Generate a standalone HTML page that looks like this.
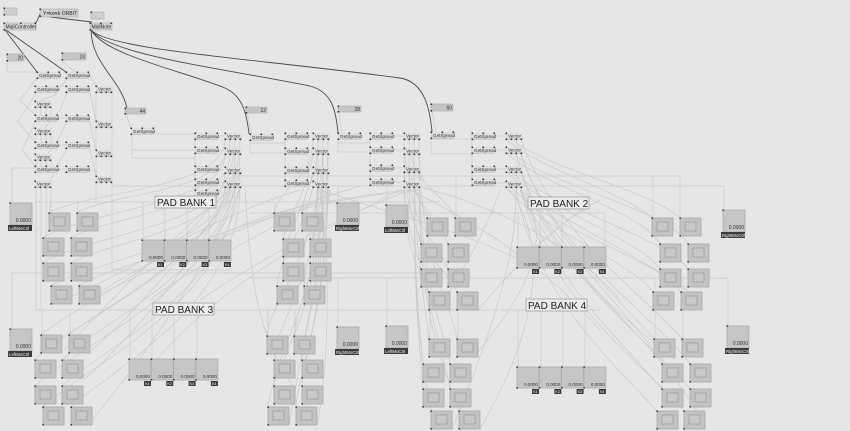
<!DOCTYPE html>
<html><head><meta charset="utf-8"><style>
html,body{margin:0;padding:0;background:#e6e6e6;}
svg{display:block;}
text{font-family:"Liberation Sans",sans-serif;}
</style></head><body>
<svg width="850" height="431" viewBox="0 0 850 431" xmlns="http://www.w3.org/2000/svg">
<defs>
<g id="pad"><rect x="0" y="0" width="21" height="18" fill="#c3c3c3" stroke="#a8a8a8" stroke-width="0.8"/><rect x="5" y="4" width="11" height="9" fill="#c9c9c9" stroke="#999" stroke-width="0.7"/><rect x="-0.6" y="-0.6" width="1.6" height="1.6" fill="#444"/><rect x="-0.6" y="17" width="1.6" height="1.6" fill="#444"/></g>
<g id="gs"><rect x="0" y="0" width="23" height="6" fill="#dedede"/><rect x="0" y="5.6" width="23" height="1" fill="#bcbcbc"/><rect x="-0.5" y="-0.5" width="1.6" height="1.6" fill="#333"/><rect x="10.5" y="-0.5" width="1.6" height="1.6" fill="#333"/><rect x="21.5" y="-0.5" width="1.6" height="1.6" fill="#333"/><rect x="-0.5" y="5.5" width="1.6" height="1.6" fill="#333"/></g>
<g id="vec"><rect x="0" y="0" width="17" height="6" fill="#dedede"/><rect x="0" y="5.6" width="17" height="1" fill="#bcbcbc"/><rect x="-0.5" y="-0.5" width="1.6" height="1.6" fill="#333"/><rect x="-0.5" y="5.5" width="1.6" height="1.6" fill="#333"/><rect x="4.5" y="5.5" width="1.6" height="1.6" fill="#333"/><rect x="9.5" y="5.5" width="1.6" height="1.6" fill="#333"/><rect x="14.5" y="5.5" width="1.6" height="1.6" fill="#333"/></g>
<g id="mo"><rect x="0" y="0" width="22" height="22" fill="#c6c6c6" stroke="#ababab" stroke-width="0.8"/><rect x="-0.6" y="-0.6" width="1.6" height="1.6" fill="#444"/><rect x="-2" y="22" width="24" height="6" fill="#3a3a3a"/></g>
<g id="ks"><rect x="0" y="0" width="22" height="21" fill="#c6c6c6" stroke="#ababab" stroke-width="0.8"/><rect x="-0.6" y="-0.6" width="1.6" height="1.6" fill="#444"/><rect x="-0.6" y="20" width="1.6" height="1.6" fill="#444"/><rect x="15" y="22" width="7" height="5" fill="#3a3a3a"/></g>
</defs>

<g fill="none" stroke="#c9c9c9" stroke-width="0.7">
<path d="M7,61 L7,72 L37,72"/>
<path d="M62,61 L75,72"/>
<path d="M36,79 L20,100 L35,115"/>
<path d="M36,93 L18,122 L35,142"/>
<path d="M36,121 L22,150 L35,166"/>
<path d="M67,79 L55,95 L40,101"/>
<path d="M67,93 L60,110 L45,128"/>
<path d="M67,121 L58,140 L48,154"/>
<path d="M67,148 L58,165 L50,181"/>
<path d="M59,118 L66,118"/><path d="M59,145 L66,145"/><path d="M59,169 L66,169"/>
<path d="M89,75 L96,86"/><path d="M89,89 L96,121"/><path d="M89,118 L96,150"/><path d="M89,145 L96,176"/>
<path d="M96,92 L96,121"/><path d="M112,92 L112,121"/><path d="M96,127 L96,150"/><path d="M112,127 L112,150"/><path d="M96,156 L96,176"/><path d="M112,156 L112,176"/>
<path d="M36,107 L36,115"/><path d="M41,107 L41,115"/><path d="M46,107 L46,115"/><path d="M51,107 L51,115"/>
<path d="M36,134 L36,142"/><path d="M41,134 L41,142"/><path d="M46,134 L46,142"/><path d="M51,134 L51,142"/>
<path d="M36,160 L36,166"/><path d="M41,160 L41,166"/><path d="M46,160 L46,166"/><path d="M51,160 L51,166"/>
<path d="M36,187 L36,310"/><path d="M41,187 L41,310"/><path d="M46,187 L46,240"/><path d="M51,187 L51,213"/>
<path d="M35,168 L12,168 L12,203"/>
<path d="M112,182 L112,270 L232,270"/>
<path d="M96,182 L96,202"/>
<path d="M132,134 L132,158"/><path d="M132,134 L195,134"/><path d="M132,150 L195,150"/><path d="M132,158 L195,158"/>
<path d="M195,133 L195,196"/><path d="M218,136 L225,136"/><path d="M218,151 L225,151"/><path d="M218,170 L225,170"/><path d="M218,183 L225,183"/>
<path d="M250,140 L250,153"/><path d="M250,143 L285,143"/><path d="M250,153 L285,153"/>
<path d="M285,133 L285,186"/><path d="M308,136 L313,136"/><path d="M308,151 L313,151"/><path d="M308,170 L313,170"/><path d="M308,183 L313,183"/>
<path d="M338,139 L338,152"/><path d="M338,143 L370,143"/><path d="M338,152 L370,152"/>
<path d="M370,133 L370,185"/><path d="M393,136 L404,136"/><path d="M393,150 L404,150"/><path d="M393,168 L404,168"/><path d="M393,182 L404,182"/>
<path d="M431,138 L431,154"/><path d="M431,139 L472,139"/><path d="M431,154 L472,154"/>
<path d="M472,133 L472,185"/><path d="M495,136 L506,136"/><path d="M495,150 L506,150"/><path d="M495,169 L506,169"/><path d="M495,183 L506,183"/>
<path d="M126,114 L131,128"/><path d="M247,113 L252,134"/><path d="M339,112 L342,133"/><path d="M432,111 L436,132"/>
<path d="M232,176 L680,176"/>
<path d="M112,186 L724,186"/>
<path d="M35,202 L440,202"/>
<path d="M250,213 L605,213"/>
<path d="M12,273 L430,273"/>
<path d="M250,278 L728,278"/>
<path d="M35,310 L600,310"/>
<path d="M12,273 L12,329"/>
<path d="M338,186 L338,203"/><path d="M387,186 L387,205"/><path d="M724,186 L724,210"/>
<path d="M338,278 L338,327"/><path d="M387,278 L387,326"/><path d="M728,278 L728,326"/>
<path d="M456,176 L456,218"/><path d="M653,176 L653,218"/><path d="M680,176 L680,218"/>
<path d="M143,202 L143,240"/><path d="M165,202 L165,240"/><path d="M187,202 L187,240"/><path d="M209,202 L209,240"/>
<path d="M518,213 L518,247"/><path d="M540,213 L540,247"/><path d="M562,213 L562,247"/><path d="M605,213 L605,247"/>
<path d="M130,310 L130,359"/><path d="M152,310 L152,359"/><path d="M174,310 L174,359"/><path d="M197,310 L197,359"/>
<path d="M518,311 L518,367"/><path d="M541,311 L541,367"/><path d="M563,311 L563,367"/><path d="M585,311 L585,367"/>
<path d="M275,202 L275,213"/><path d="M303,202 L303,213"/><path d="M50,202 L50,213"/><path d="M78,202 L78,213"/>
<path d="M42,310 L42,335"/><path d="M70,310 L70,335"/><path d="M268,310 L268,336"/><path d="M295,310 L295,336"/>
<path d="M430,310 L430,339"/><path d="M458,310 L458,339"/><path d="M655,278 L655,339"/><path d="M683,278 L683,339"/>
</g>

<g fill="none" stroke="#cacaca" stroke-width="0.7">
<path d="M225,139 C225,190 90,190 49,213"/>
<path d="M230,139 C230,195 115,190 77,213"/>
<path d="M225,154 C225,205 85,210 43,238"/>
<path d="M230,154 C230,210 110,215 71,238"/>
<path d="M225,173 C225,225 85,235 43,263"/>
<path d="M230,173 C230,230 110,240 71,263"/>
<path d="M225,187 C225,245 95,260 51,286"/>
<path d="M230,187 C230,250 120,260 79,286"/>
<path d="M235,139 C235,240 80,300 41,335"/>
<path d="M240,139 C240,245 110,300 69,335"/>
<path d="M235,154 C235,260 70,320 35,360"/>
<path d="M240,154 C240,265 100,320 62,360"/>
<path d="M235,173 C235,280 70,350 35,386"/>
<path d="M240,173 C240,285 100,350 62,386"/>
<path d="M235,187 C235,300 80,370 43,407"/>
<path d="M240,187 C240,305 110,370 71,407"/>
<path d="M313,139 C313,180 280,185 274,213"/>
<path d="M318,139 C318,180 305,185 302,213"/>
<path d="M313,154 C305,200 290,210 283,239"/>
<path d="M318,154 C318,200 315,210 310,239"/>
<path d="M313,173 C300,220 285,235 283,263"/>
<path d="M318,173 C318,220 312,235 310,263"/>
<path d="M313,187 C300,240 280,255 277,286"/>
<path d="M318,187 C318,240 306,255 304,286"/>
<path d="M323,139 C323,250 270,300 267,336"/>
<path d="M328,139 C328,250 297,300 294,336"/>
<path d="M323,154 C323,270 276,320 274,360"/>
<path d="M328,154 C328,270 305,320 302,360"/>
<path d="M323,173 C323,290 276,350 274,386"/>
<path d="M328,173 C328,290 305,350 302,386"/>
<path d="M323,187 C323,310 270,370 268,407"/>
<path d="M328,187 C328,310 298,370 296,407"/>
<path d="M404,139 C404,185 420,195 427,218"/>
<path d="M409,139 C409,185 448,195 455,218"/>
<path d="M404,154 C404,205 415,220 421,244"/>
<path d="M409,154 C409,205 440,220 448,244"/>
<path d="M404,172 C404,225 415,245 421,269"/>
<path d="M409,172 C409,225 440,245 448,269"/>
<path d="M404,187 C404,250 420,270 429,292"/>
<path d="M409,187 C409,250 450,270 457,292"/>
<path d="M414,139 C414,260 425,300 429,339"/>
<path d="M419,139 C419,260 450,300 457,339"/>
<path d="M414,154 C414,290 420,330 423,364"/>
<path d="M419,154 C419,290 445,330 450,364"/>
<path d="M414,172 C414,310 420,350 423,389"/>
<path d="M419,172 C419,310 445,350 450,389"/>
<path d="M414,187 C414,330 425,380 431,411"/>
<path d="M419,187 C419,330 450,380 459,411"/>
<path d="M506,139 C540,170 620,190 652,218"/>
<path d="M511,139 C550,170 650,190 680,218"/>
<path d="M506,153 C550,190 640,210 660,244"/>
<path d="M511,153 C560,190 670,210 688,244"/>
<path d="M506,172 C550,210 640,240 660,269"/>
<path d="M511,172 C560,210 670,240 688,269"/>
<path d="M506,187 C540,230 630,260 653,292"/>
<path d="M511,187 C550,230 660,260 681,292"/>
<path d="M516,139 C540,230 620,300 654,339"/>
<path d="M521,139 C550,230 650,300 682,339"/>
<path d="M516,153 C540,250 630,320 662,364"/>
<path d="M521,153 C550,250 660,320 690,364"/>
<path d="M516,172 C540,270 630,350 662,389"/>
<path d="M521,172 C550,270 660,350 690,389"/>
<path d="M516,187 C530,290 620,370 657,411"/>
<path d="M521,187 C540,290 650,370 684,411"/>
<path d="M420,187 C470,200 560,230 620,300"/>
<path d="M410,190 C470,220 540,260 600,330"/>
<path d="M404,190 C330,200 250,210 200,250"/>
<path d="M320,190 C380,210 460,230 520,260"/>
<path d="M52,304 C120,280 200,220 300,190"/>
<path d="M80,304 C150,270 250,220 360,186"/>
<path d="M100,292 C180,240 300,200 420,190"/>
<path d="M92,350 C150,300 200,230 240,190"/>
<path d="M64,350 C120,290 180,230 230,190"/>
<path d="M84,380 C150,320 200,250 232,190"/>
<path d="M92,420 C150,350 210,260 240,190"/>
<path d="M289,425 C300,360 320,260 330,190"/>
<path d="M317,425 C330,360 330,260 320,190"/>
<path d="M296,390 C250,330 250,250 245,190"/>
<path d="M474,357 C520,300 560,240 520,190"/>
<path d="M452,429 C480,360 520,260 515,190"/>
<path d="M480,429 C520,360 560,260 510,190"/>
<path d="M444,300 C470,260 490,220 500,190"/>
<path d="M478,310 C520,260 560,220 600,200"/>
<path d="M700,300 C650,260 560,220 520,190"/>
<path d="M702,420 C650,330 560,250 525,190"/>
<path d="M675,360 C600,300 540,240 520,190"/>
<path d="M150,300 C200,260 280,230 330,190"/>
<path d="M200,300 C260,260 330,220 410,190"/>
<path d="M140,380 C200,300 300,240 400,190"/>
</g>

<g fill="none" stroke="#4a4a4a" stroke-width="0.9">
<path d="M5,30 L37,72"/>
<path d="M6,30 L66,72"/>
<path d="M50,17 L92,22"/>
<path d="M40,14 L36,23"/>
<path d="M91,30 C92,65 120,78 127,108"/>
<path d="M91,30 C105,55 180,70 225,88 C243,96 247,115 249,134"/>
<path d="M91,30 C110,55 220,68 310,86 C332,92 336,110 338,133"/>
<path d="M91,30 C110,50 250,58 400,78 C425,82 430,110 432,132"/>
</g>

<rect x="4" y="8" width="13" height="7" fill="#cfcfcf" stroke="#aaa" stroke-width="0.6"/>
<rect x="3.5" y="7.5" width="1.6" height="1.6" fill="#333"/><rect x="3.5" y="14" width="1.6" height="1.6" fill="#333"/>
<rect x="4" y="23" width="32" height="7" fill="#d6d6d6" stroke="#aaa" stroke-width="0.6"/>
<rect x="3.5" y="22.5" width="1.6" height="1.6" fill="#333"/><rect x="3.5" y="29" width="1.6" height="1.6" fill="#333"/><rect x="34.5" y="22.5" width="1.6" height="1.6" fill="#333"/><rect x="20" y="22.5" width="1.6" height="1.6" fill="#333"/>
<text x="5.5" y="28.6" font-size="5" fill="#222">MidiController</text>
<rect x="40" y="9" width="38" height="8" fill="#d0d0d0" stroke="#aaa" stroke-width="0.6"/>
<rect x="39.5" y="8.5" width="1.6" height="1.6" fill="#333"/><rect x="39.5" y="15.5" width="1.6" height="1.6" fill="#333"/>
<text x="43" y="15" font-size="5" fill="#222">Y=korrk ORBIT</text>
<rect x="91" y="12" width="13" height="7" fill="#cfcfcf" stroke="#aaa" stroke-width="0.6"/>
<rect x="90.5" y="11.5" width="1.6" height="1.6" fill="#333"/>
<rect x="90" y="23" width="22" height="7" fill="#d6d6d6" stroke="#aaa" stroke-width="0.6"/>
<rect x="89.5" y="22.5" width="1.6" height="1.6" fill="#333"/><rect x="89.5" y="29" width="1.6" height="1.6" fill="#333"/><rect x="110.5" y="22.5" width="1.6" height="1.6" fill="#333"/><rect x="100" y="22.5" width="1.6" height="1.6" fill="#333"/>
<text x="91.5" y="28.6" font-size="5" fill="#222">MidiNote</text>

<g fill="#c6c6c6" stroke="#aaa" stroke-width="0.6">
<rect x="7" y="54" width="17" height="7"/>
<rect x="62" y="53" width="24" height="7"/>
<rect x="125" y="108" width="21" height="6"/>
<rect x="246" y="107" width="21" height="6"/>
<rect x="338" y="106" width="23" height="6"/>
<rect x="431" y="104" width="22" height="7"/>
</g>
<g fill="#333">
<rect x="6.5" y="53.5" width="1.6" height="1.6"/><rect x="6.5" y="60" width="1.6" height="1.6"/>
<rect x="61.5" y="52.5" width="1.6" height="1.6"/><rect x="61.5" y="59" width="1.6" height="1.6"/>
<rect x="124.5" y="107.5" width="1.6" height="1.6"/><rect x="124.5" y="113" width="1.6" height="1.6"/>
<rect x="245.5" y="106.5" width="1.6" height="1.6"/><rect x="245.5" y="112" width="1.6" height="1.6"/>
<rect x="337.5" y="105.5" width="1.6" height="1.6"/><rect x="337.5" y="111" width="1.6" height="1.6"/>
<rect x="430.5" y="103.5" width="1.6" height="1.6"/><rect x="430.5" y="110" width="1.6" height="1.6"/>
</g>
<g font-size="5" fill="#333" text-anchor="end">
<text x="23" y="59.6">20</text>
<text x="85" y="58.6">24</text>
<text x="145" y="113">44</text>
<text x="266" y="112">12</text>
<text x="360" y="111">28</text>
<text x="452" y="109.6">60</text>
</g>

<g>
<use href="#gs" x="37" y="72"/><use href="#gs" x="66" y="72"/>
<use href="#gs" x="35" y="86"/><use href="#gs" x="66" y="86"/>
<use href="#gs" x="35" y="115"/><use href="#gs" x="66" y="115"/>
<use href="#gs" x="35" y="142"/><use href="#gs" x="66" y="142"/>
<use href="#gs" x="35" y="166"/><use href="#gs" x="66" y="166"/>
<use href="#gs" x="131" y="128"/>
<use href="#gs" x="195" y="133"/><use href="#gs" x="195" y="147"/><use href="#gs" x="195" y="166"/><use href="#gs" x="195" y="179"/><use href="#gs" x="195" y="190"/>
<use href="#gs" x="250" y="134"/>
<use href="#gs" x="285" y="133"/><use href="#gs" x="285" y="148"/><use href="#gs" x="285" y="167"/><use href="#gs" x="285" y="180"/>
<use href="#gs" x="338" y="133"/>
<use href="#gs" x="370" y="133"/><use href="#gs" x="370" y="147"/><use href="#gs" x="370" y="165"/><use href="#gs" x="370" y="179"/>
<use href="#gs" x="431" y="132"/>
<use href="#gs" x="472" y="133"/><use href="#gs" x="472" y="147"/><use href="#gs" x="472" y="166"/><use href="#gs" x="472" y="179"/>
</g>
<g font-size="4.6" fill="#333">
<text x="39" y="76.8">GetSpread</text><text x="68" y="76.8">GetSpread</text>
<text x="37" y="90.8">GetSpread</text><text x="68" y="90.8">GetSpread</text>
<text x="37" y="119.8">GetSpread</text><text x="68" y="119.8">GetSpread</text>
<text x="37" y="146.8">GetSpread</text><text x="68" y="146.8">GetSpread</text>
<text x="37" y="170.8">GetSpread</text><text x="68" y="170.8">GetSpread</text>
<text x="133" y="132.8">GetSpread</text>
<text x="197" y="137.8">GetSpread</text><text x="197" y="151.8">GetSpread</text><text x="197" y="170.8">GetSpread</text><text x="197" y="183.8">GetSpread</text><text x="197" y="194.8">GetSpread</text>
<text x="252" y="138.8">GetSpread</text>
<text x="287" y="137.8">GetSpread</text><text x="287" y="152.8">GetSpread</text><text x="287" y="171.8">GetSpread</text><text x="287" y="184.8">GetSpread</text>
<text x="340" y="137.8">GetSpread</text>
<text x="372" y="137.8">GetSpread</text><text x="372" y="151.8">GetSpread</text><text x="372" y="169.8">GetSpread</text><text x="372" y="183.8">GetSpread</text>
<text x="433" y="136.8">GetSpread</text>
<text x="474" y="137.8">GetSpread</text><text x="474" y="151.8">GetSpread</text><text x="474" y="170.8">GetSpread</text><text x="474" y="183.8">GetSpread</text>
</g>

<g>
<use href="#vec" x="35" y="101"/><use href="#vec" x="35" y="128"/><use href="#vec" x="35" y="154"/><use href="#vec" x="35" y="181"/>
<use href="#vec" x="96" y="86"/><use href="#vec" x="96" y="121"/><use href="#vec" x="96" y="150"/><use href="#vec" x="96" y="176"/>
<use href="#vec" x="225" y="133"/><use href="#vec" x="225" y="148"/><use href="#vec" x="225" y="167"/><use href="#vec" x="225" y="181"/>
<use href="#vec" x="313" y="133"/><use href="#vec" x="313" y="148"/><use href="#vec" x="313" y="167"/><use href="#vec" x="313" y="181"/>
<use href="#vec" x="404" y="133"/><use href="#vec" x="404" y="148"/><use href="#vec" x="404" y="166"/><use href="#vec" x="404" y="181"/>
<use href="#vec" x="506" y="133"/><use href="#vec" x="506" y="147"/><use href="#vec" x="506" y="166"/><use href="#vec" x="506" y="181"/>
</g>
<g font-size="4.6" fill="#333">
<text x="37" y="105.6">Vector</text><text x="37" y="132.6">Vector</text><text x="37" y="158.6">Vector</text><text x="37" y="185.6">Vector</text>
<text x="98" y="90.6">Vector</text><text x="98" y="125.6">Vector</text><text x="98" y="154.6">Vector</text><text x="98" y="180.6">Vector</text>
<text x="227" y="137.6">Vector</text><text x="227" y="152.6">Vector</text><text x="227" y="171.6">Vector</text><text x="227" y="185.6">Vector</text>
<text x="315" y="137.6">Vector</text><text x="315" y="152.6">Vector</text><text x="315" y="171.6">Vector</text><text x="315" y="185.6">Vector</text>
<text x="406" y="137.6">Vector</text><text x="406" y="152.6">Vector</text><text x="406" y="170.6">Vector</text><text x="406" y="185.6">Vector</text>
<text x="508" y="137.6">Vector</text><text x="508" y="151.6">Vector</text><text x="508" y="170.6">Vector</text><text x="508" y="185.6">Vector</text>
</g>

<g fill="#ececec" stroke="#a0a0a0" stroke-width="0.8">
<rect x="155" y="196" width="61" height="12"/>
<rect x="528" y="197" width="61" height="12"/>
<rect x="153" y="303" width="61" height="12"/>
<rect x="526" y="299" width="61" height="12"/>
</g>
<g font-size="10" fill="#222">
<text x="157" y="206">PAD BANK 1</text>
<text x="530" y="207">PAD BANK 2</text>
<text x="155" y="313">PAD BANK 3</text>
<text x="528" y="309">PAD BANK 4</text>
</g>

<g>
<use href="#pad" x="49" y="213"/><use href="#pad" x="77" y="213"/><use href="#pad" x="43" y="238"/><use href="#pad" x="71" y="238"/><use href="#pad" x="43" y="263"/><use href="#pad" x="71" y="263"/><use href="#pad" x="51" y="286"/><use href="#pad" x="79" y="286"/>
<use href="#pad" x="274" y="213"/><use href="#pad" x="302" y="213"/><use href="#pad" x="283" y="239"/><use href="#pad" x="310" y="239"/><use href="#pad" x="283" y="263"/><use href="#pad" x="310" y="263"/><use href="#pad" x="277" y="286"/><use href="#pad" x="304" y="286"/>
<use href="#pad" x="427" y="218"/><use href="#pad" x="455" y="218"/><use href="#pad" x="421" y="244"/><use href="#pad" x="448" y="244"/><use href="#pad" x="421" y="269"/><use href="#pad" x="448" y="269"/><use href="#pad" x="429" y="292"/><use href="#pad" x="457" y="292"/>
<use href="#pad" x="652" y="218"/><use href="#pad" x="680" y="218"/><use href="#pad" x="660" y="244"/><use href="#pad" x="688" y="244"/><use href="#pad" x="660" y="269"/><use href="#pad" x="688" y="269"/><use href="#pad" x="653" y="292"/><use href="#pad" x="681" y="292"/>
<use href="#pad" x="41" y="335"/><use href="#pad" x="69" y="335"/><use href="#pad" x="35" y="360"/><use href="#pad" x="62" y="360"/><use href="#pad" x="35" y="386"/><use href="#pad" x="62" y="386"/><use href="#pad" x="43" y="407"/><use href="#pad" x="71" y="407"/>
<use href="#pad" x="267" y="336"/><use href="#pad" x="294" y="336"/><use href="#pad" x="274" y="360"/><use href="#pad" x="302" y="360"/><use href="#pad" x="274" y="386"/><use href="#pad" x="302" y="386"/><use href="#pad" x="268" y="407"/><use href="#pad" x="296" y="407"/>
<use href="#pad" x="429" y="339"/><use href="#pad" x="457" y="339"/><use href="#pad" x="423" y="364"/><use href="#pad" x="450" y="364"/><use href="#pad" x="423" y="389"/><use href="#pad" x="450" y="389"/><use href="#pad" x="431" y="411"/><use href="#pad" x="459" y="411"/>
<use href="#pad" x="654" y="339"/><use href="#pad" x="682" y="339"/><use href="#pad" x="662" y="364"/><use href="#pad" x="690" y="364"/><use href="#pad" x="662" y="389"/><use href="#pad" x="690" y="389"/><use href="#pad" x="657" y="411"/><use href="#pad" x="684" y="411"/>
</g>

<g>
<use href="#mo" x="10" y="203"/><use href="#mo" x="337" y="203"/>
<use href="#mo" x="386" y="205"/><use href="#mo" x="723" y="210"/>
<use href="#mo" x="10" y="329"/><use href="#mo" x="337" y="327"/>
<use href="#mo" x="386" y="326"/><use href="#mo" x="727" y="326"/>
</g>
<g font-size="5" fill="#333" text-anchor="end">
<text x="31" y="222">0.0000</text><text x="358" y="222">0.0000</text>
<text x="407" y="224">0.0000</text><text x="744" y="229">0.0000</text>
<text x="31" y="348">0.0000</text><text x="358" y="346">0.0000</text>
<text x="407" y="345">0.0000</text><text x="748" y="345">0.0000</text>
</g>
<g font-size="4.4" fill="#f2f2f2">
<text x="9" y="229.8">LeftMoCtrl</text><text x="336" y="229.8">RightMoCtrl</text>
<text x="385" y="231.8">LeftMoCtrl</text><text x="722" y="236.8">RightMoCtrl</text>
<text x="9" y="355.8">LeftMoCtrl</text><text x="336" y="353.8">RightMoCtrl</text>
<text x="385" y="352.8">LeftMoCtrl</text><text x="726" y="352.8">RightMoCtrl</text>
</g>

<g>
<use href="#ks" x="142" y="240"/><use href="#ks" x="164.3" y="240"/><use href="#ks" x="186.6" y="240"/><use href="#ks" x="208.9" y="240"/>
<use href="#ks" x="517" y="247"/><use href="#ks" x="539.3" y="247"/><use href="#ks" x="561.6" y="247"/><use href="#ks" x="583.9" y="247"/>
<use href="#ks" x="129" y="359"/><use href="#ks" x="151.3" y="359"/><use href="#ks" x="173.6" y="359"/><use href="#ks" x="195.9" y="359"/>
<use href="#ks" x="517" y="367"/><use href="#ks" x="539.3" y="367"/><use href="#ks" x="561.6" y="367"/><use href="#ks" x="583.9" y="367"/>
</g>
<g font-size="4.6" fill="#333" text-anchor="end">
<text x="163" y="259">0.0000</text><text x="185.3" y="259">0.0000</text><text x="207.6" y="259">0.0000</text><text x="229.9" y="259">0.0000</text>
<text x="538" y="266">0.0000</text><text x="560.3" y="266">0.0000</text><text x="582.6" y="266">0.0000</text><text x="604.9" y="266">0.0000</text>
<text x="150" y="378">0.0000</text><text x="172.3" y="378">0.0000</text><text x="194.6" y="378">0.0000</text><text x="216.9" y="378">0.0000</text>
<text x="538" y="386">0.0000</text><text x="560.3" y="386">0.0000</text><text x="582.6" y="386">0.0000</text><text x="604.9" y="386">0.0000</text>
</g>
<g font-size="3.8" fill="#eee">
<text x="158" y="266">K1</text><text x="180.3" y="266">K2</text><text x="202.6" y="266">K3</text><text x="224.9" y="266">K4</text>
<text x="533" y="273">K1</text><text x="555.3" y="273">K2</text><text x="577.6" y="273">K3</text><text x="599.9" y="273">K4</text>
<text x="145" y="385">K1</text><text x="167.3" y="385">K2</text><text x="189.6" y="385">K3</text><text x="211.9" y="385">K4</text>
<text x="533" y="393">K1</text><text x="555.3" y="393">K2</text><text x="577.6" y="393">K3</text><text x="599.9" y="393">K4</text>
</g>
</svg>
</body></html>
